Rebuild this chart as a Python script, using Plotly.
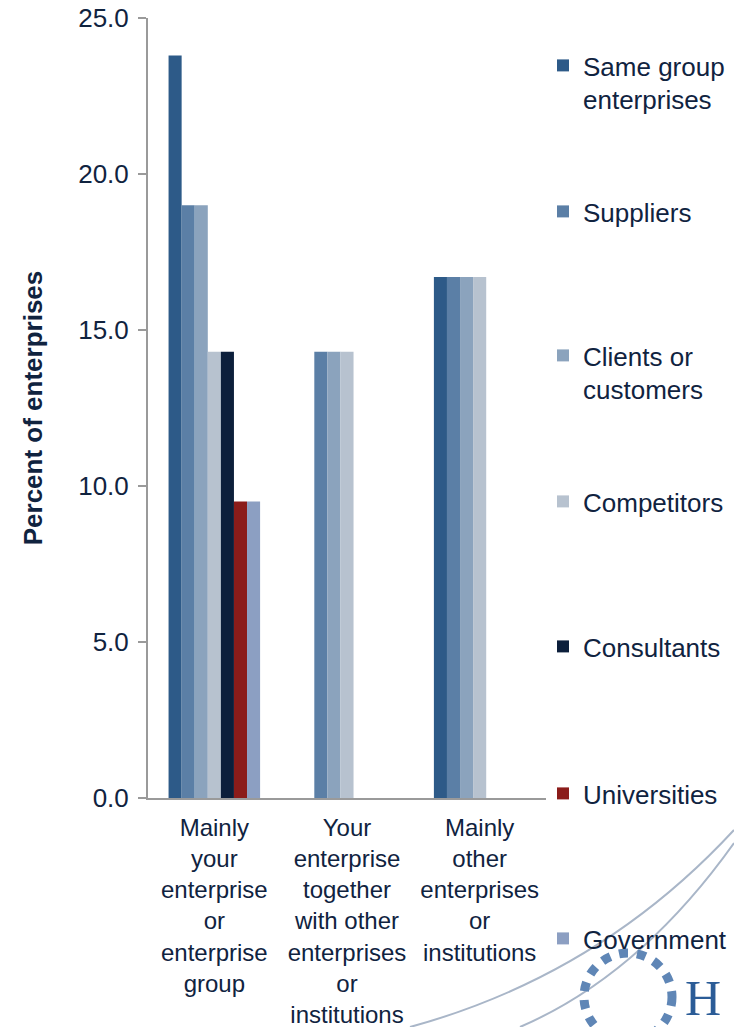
import plotly.graph_objects as go

categories = [
    "Mainly<br>your<br>enterprise<br>or<br>enterprise<br>group",
    "Your<br>enterprise<br>together<br>with other<br>enterprises<br>or<br>institutions",
    "Mainly<br>other<br>enterprises<br>or<br>institutions",
]
series_names = ["Same group<br>enterprises", "Suppliers", "Clients or<br>customers",
                "Competitors", "Consultants", "Universities", "Government"]
same_group = [23.8, 0, 16.7]
suppliers = [19.0, 14.3, 16.7]
clients = [19.0, 14.3, 16.7]
competitors = [14.3, 14.3, 16.7]
consultants = [14.3, 0, 0]
universities = [9.5, 0, 0]
government = [9.5, 0, 0]
series_values = [same_group, suppliers, clients, competitors, consultants, universities, government]
colors = ["#2D5A88", "#5B7FA6", "#8BA3BD", "#B7C2CF", "#0C1F3B", "#8B1C1A", "#8C9FC2"]
y_ticks = [0, 5, 10, 15, 20, 25]

TXT = "#10233F"
FONT = "Liberation Sans, Arial, sans-serif"

fig = go.Figure()
legend_px = [67, 213, 357, 503, 648, 795, 940]  # first-line centre of each legend entry
W, H = 734, 1027
ml, mr, mt, mb = 148, 188, 18, 229
ph = H - mt - mb
pw = W - ml - mr


def px_x(x):
    return (x - ml) / pw


def px_y(y):
    return (H - mb - y) / ph


layout_legends = {}
for i, (name, vals, col) in enumerate(zip(series_names, series_values, colors)):
    key = "legend" if i == 0 else f"legend{i+1}"
    fig.add_trace(go.Bar(x=categories, y=vals, name=name, marker=dict(color=col, line=dict(width=0)),
                         legend=key, showlegend=True))
    ypix = legend_px[i] - 25
    layout_legends[key] = dict(
        x=px_x(543), xanchor="left",
        y=px_y(ypix), yanchor="top",
        valign="top", bgcolor="rgba(0,0,0,0)",
        font=dict(family=FONT, size=26, color=TXT),
        itemwidth=30, visible=True,
    )

# decorative swoosh and logo (bottom right)
shapes = [
    dict(type="path", xref="paper", yref="paper", layer="below",
         path="M {},{} Q {},{} {},{}".format(px_x(410), px_y(1027), px_x(600), px_y(975),
                                              px_x(734), px_y(830)),
         line=dict(color="#A9B6C8", width=2)),
    dict(type="path", xref="paper", yref="paper", layer="below",
         path="M {},{} Q {},{} {},{}".format(px_x(520), px_y(1027), px_x(640), px_y(975),
                                              px_x(734), px_y(843)),
         line=dict(color="#A9B6C8", width=2)),
    dict(type="circle", xref="paper", yref="paper", layer="below",
         x0=px_x(584), x1=px_x(672), y0=px_y(1041), y1=px_y(953),
         line=dict(color="#5F86B6", width=9, dash="dot")),
]

fig.update_layout(
    width=W, height=H,
    margin=dict(l=ml, r=mr, t=mt, b=mb, autoexpand=False),
    paper_bgcolor="white", plot_bgcolor="white",
    barmode="group", bargap=0.31, bargroupgap=0,
    font=dict(family=FONT, color=TXT),
    shapes=shapes,
    annotations=[dict(text="H", xref="paper", yref="paper", showarrow=False,
                      x=px_x(683), y=px_y(998), xanchor="left", yanchor="middle",
                      font=dict(family="Liberation Serif, serif", size=50, color="#2B5C97"))],
    **layout_legends,
)
fig.update_yaxes(
    range=[0, 25], tickvals=y_ticks, tickformat=".1f",
    showgrid=False, zeroline=False,
    showline=True, linecolor="#9A9A9A", linewidth=2,
    ticks="outside", ticklen=8, tickcolor="#9A9A9A", tickwidth=2,
    ticklabelstandoff=4,
    tickfont=dict(family=FONT, size=26, color=TXT),
    title=dict(text="<b>Percent of enterprises</b>", font=dict(family=FONT, size=26, color=TXT), standoff=28),
)
fig.update_xaxes(
    showgrid=False, showline=True, linecolor="#9A9A9A", linewidth=2,
    ticks="", tickfont=dict(family=FONT, size=24, color=TXT), tickangle=0,
    ticklabelstandoff=7, automargin=False,
)

fig.write_html("out.html")
